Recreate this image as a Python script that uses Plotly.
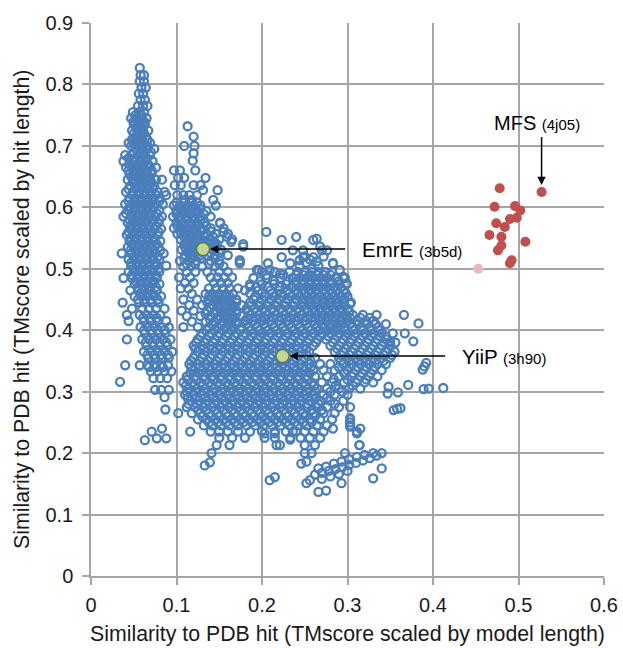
import plotly.graph_objects as go

# ---------------- data ----------------
# Blue open circles, written as rows: (y, [x values on that row])
spike_rows = [
    (0.827, [0.057]),
    (0.815, [0.058, 0.062]),
    (0.805, [0.057, 0.062]),
    (0.795, [0.059, 0.064]),
    (0.785, [0.056, 0.061]),
    (0.775, [0.058, 0.063]),
    (0.765, [0.055, 0.061, 0.066]),
    (0.755, [0.049, 0.056, 0.062]),
    (0.745, [0.047, 0.053, 0.059, 0.065]),
    (0.735, [0.050, 0.057, 0.063]),
    (0.725, [0.048, 0.054, 0.061, 0.067]),
    (0.715, [0.052, 0.058, 0.064]),
    (0.705, [0.044, 0.050, 0.056, 0.062, 0.069]),
    (0.695, [0.053, 0.059, 0.066, 0.074]),
    (0.685, [0.040, 0.047, 0.055, 0.062, 0.069]),
    (0.675, [0.038, 0.050, 0.057, 0.064, 0.072]),
    (0.665, [0.041, 0.048, 0.055, 0.061, 0.068, 0.076]),
    (0.655, [0.045, 0.052, 0.058, 0.065, 0.071]),
    (0.645, [0.043, 0.049, 0.056, 0.062, 0.069, 0.076, 0.083]),
    (0.635, [0.046, 0.053, 0.060, 0.067, 0.074]),
    (0.625, [0.041, 0.049, 0.056, 0.063, 0.070, 0.078, 0.086]),
    (0.615, [0.045, 0.052, 0.059, 0.066, 0.073, 0.080]),
    (0.605, [0.040, 0.048, 0.055, 0.062, 0.069, 0.076, 0.084]),
    (0.595, [0.044, 0.051, 0.058, 0.065, 0.072, 0.080]),
    (0.585, [0.038, 0.047, 0.054, 0.061, 0.068, 0.075, 0.083]),
    (0.575, [0.043, 0.050, 0.057, 0.064, 0.071, 0.079]),
    (0.565, [0.046, 0.053, 0.060, 0.067, 0.074, 0.082]),
    (0.555, [0.042, 0.049, 0.056, 0.063, 0.070, 0.078]),
    (0.545, [0.045, 0.052, 0.059, 0.066, 0.073, 0.081]),
    (0.535, [0.043, 0.050, 0.057, 0.064, 0.071, 0.079]),
    (0.525, [0.036, 0.047, 0.054, 0.061, 0.068, 0.075, 0.085]),
    (0.515, [0.044, 0.051, 0.058, 0.065, 0.072, 0.080]),
    (0.505, [0.047, 0.054, 0.061, 0.068, 0.075, 0.088]),
    (0.495, [0.044, 0.051, 0.058, 0.065, 0.072, 0.080]),
    (0.485, [0.038, 0.048, 0.055, 0.062, 0.069, 0.077]),
    (0.475, [0.051, 0.058, 0.065, 0.072, 0.080]),
    (0.465, [0.046, 0.055, 0.062, 0.069, 0.077]),
    (0.455, [0.051, 0.059, 0.066, 0.074, 0.082]),
    (0.445, [0.037, 0.056, 0.063, 0.071, 0.079]),
    (0.435, [0.048, 0.060, 0.068, 0.076, 0.086]),
    (0.425, [0.042, 0.057, 0.065, 0.073, 0.081]),
    (0.415, [0.044, 0.062, 0.070, 0.078, 0.088]),
    (0.405, [0.058, 0.066, 0.074, 0.082, 0.091]),
    (0.395, [0.063, 0.071, 0.079, 0.087]),
    (0.385, [0.042, 0.060, 0.068, 0.076, 0.084, 0.093]),
    (0.375, [0.065, 0.073, 0.081, 0.089]),
    (0.365, [0.062, 0.070, 0.078, 0.086, 0.095]),
    (0.355, [0.067, 0.075, 0.083, 0.091]),
    (0.343, [0.040, 0.057, 0.066, 0.074, 0.082, 0.090]),
    (0.333, [0.070, 0.078, 0.086, 0.094]),
    (0.322, [0.073, 0.081, 0.089]),
    (0.316, [0.034]),
    (0.303, [0.075, 0.082, 0.091]),
    (0.291, [0.086]),
    (0.271, [0.087]),
    (0.240, [0.083]),
    (0.235, [0.071]),
    (0.224, [0.077, 0.088]),
    (0.221, [0.063]),
]

spike_fill_rows = [
    (0.750, [0.052, 0.059]),
    (0.740, [0.050, 0.056, 0.062]),
    (0.730, [0.053, 0.060]),
    (0.720, [0.050, 0.056, 0.062]),
    (0.710, [0.048, 0.054, 0.060, 0.066]),
    (0.700, [0.047, 0.053, 0.060, 0.066]),
    (0.690, [0.050, 0.057, 0.063, 0.070]),
    (0.680, [0.044, 0.051, 0.058, 0.065]),
    (0.670, [0.045, 0.053, 0.060, 0.067]),
    (0.660, [0.044, 0.051, 0.058, 0.064, 0.071]),
    (0.650, [0.047, 0.054, 0.061, 0.068]),
    (0.640, [0.050, 0.057, 0.064, 0.071]),
    (0.630, [0.044, 0.052, 0.059, 0.066, 0.073]),
    (0.620, [0.048, 0.055, 0.062, 0.069, 0.076]),
    (0.610, [0.044, 0.051, 0.058, 0.065, 0.072, 0.080]),
    (0.600, [0.045, 0.052, 0.059, 0.066, 0.073]),
    (0.590, [0.041, 0.048, 0.055, 0.062, 0.069, 0.077]),
    (0.580, [0.045, 0.052, 0.059, 0.066, 0.073, 0.080]),
    (0.570, [0.046, 0.053, 0.060, 0.068, 0.076]),
    (0.560, [0.044, 0.051, 0.058, 0.065, 0.072, 0.079]),
    (0.550, [0.046, 0.053, 0.060, 0.067, 0.074]),
    (0.540, [0.048, 0.055, 0.062, 0.069, 0.077]),
    (0.530, [0.046, 0.053, 0.060, 0.067, 0.074, 0.081]),
    (0.520, [0.050, 0.057, 0.064, 0.071, 0.078]),
    (0.510, [0.047, 0.054, 0.061, 0.068, 0.076]),
    (0.500, [0.050, 0.057, 0.064, 0.071, 0.079]),
    (0.490, [0.048, 0.055, 0.062, 0.069, 0.076]),
    (0.480, [0.052, 0.059, 0.066, 0.073]),
    (0.470, [0.055, 0.062, 0.069, 0.076]),
    (0.460, [0.058, 0.065, 0.072]),
    (0.450, [0.055, 0.062, 0.070, 0.078]),
    (0.420, [0.061, 0.069, 0.077]),
    (0.400, [0.062, 0.070, 0.078, 0.086]),
    (0.380, [0.064, 0.072, 0.080, 0.088]),
    (0.360, [0.066, 0.074, 0.082, 0.090]),
    (0.340, [0.068, 0.076, 0.084]),
]

middle_rows = [
    (0.732, [0.113]),
    (0.715, [0.120]),
    (0.700, [0.109, 0.121]),
    (0.688, [0.120]),
    (0.676, [0.119]),
    (0.660, [0.097, 0.104, 0.122]),
    (0.648, [0.102, 0.109, 0.134]),
    (0.636, [0.098, 0.105, 0.120, 0.128]),
    (0.628, [0.131, 0.148]),
    (0.620, [0.088, 0.101, 0.108, 0.115, 0.124]),
    (0.612, [0.110, 0.118, 0.143]),
    (0.603, [0.097, 0.104, 0.112, 0.120, 0.128, 0.146]),
    (0.594, [0.100, 0.108, 0.116, 0.124, 0.135]),
    (0.585, [0.096, 0.104, 0.112, 0.120, 0.128, 0.140]),
    (0.575, [0.100, 0.108, 0.116, 0.124, 0.132, 0.151]),
    (0.566, [0.097, 0.105, 0.113, 0.121, 0.129, 0.140, 0.155]),
    (0.557, [0.101, 0.109, 0.117, 0.125, 0.135, 0.146, 0.160]),
    (0.548, [0.105, 0.113, 0.121, 0.129, 0.138, 0.150, 0.165]),
    (0.540, [0.109, 0.117, 0.125, 0.140, 0.147, 0.178]),
    (0.531, [0.106, 0.114, 0.122, 0.131, 0.142, 0.152]),
    (0.522, [0.110, 0.118, 0.127, 0.136, 0.145, 0.160]),
    (0.513, [0.104, 0.114, 0.123, 0.140, 0.150, 0.174]),
    (0.504, [0.108, 0.117, 0.130, 0.145, 0.155]),
    (0.495, [0.112, 0.122, 0.136, 0.150, 0.160]),
    (0.486, [0.103, 0.116, 0.140, 0.148, 0.156, 0.165]),
    (0.477, [0.110, 0.120, 0.144, 0.152, 0.160]),
    (0.468, [0.105, 0.114, 0.138, 0.146, 0.154, 0.162, 0.172]),
    (0.459, [0.118, 0.134, 0.142, 0.150, 0.158, 0.166]),
    (0.450, [0.108, 0.124, 0.138, 0.146, 0.154, 0.162, 0.170]),
    (0.441, [0.115, 0.130, 0.142, 0.150, 0.158, 0.166, 0.176]),
    (0.432, [0.106, 0.120, 0.136, 0.146, 0.154, 0.162, 0.170]),
    (0.423, [0.112, 0.128, 0.140, 0.150, 0.158, 0.166, 0.176]),
    (0.414, [0.118, 0.134, 0.144, 0.154, 0.162, 0.170]),
    (0.405, [0.108, 0.125, 0.138, 0.148, 0.158, 0.166, 0.176]),
]

middle_fill_rows = [
    (0.608, [0.100, 0.108, 0.116, 0.124]),
    (0.598, [0.104, 0.112, 0.120, 0.128]),
    (0.589, [0.100, 0.108, 0.116, 0.124, 0.132]),
    (0.580, [0.104, 0.112, 0.120, 0.128]),
    (0.570, [0.101, 0.109, 0.117, 0.125, 0.135]),
    (0.561, [0.105, 0.113, 0.121, 0.129, 0.140]),
    (0.552, [0.109, 0.117, 0.125, 0.133, 0.143]),
    (0.544, [0.112, 0.120, 0.128, 0.136, 0.144]),
    (0.535, [0.110, 0.118, 0.126, 0.137, 0.147]),
    (0.526, [0.114, 0.122, 0.131, 0.140, 0.150]),
    (0.517, [0.109, 0.118, 0.128, 0.145]),
    (0.508, [0.112, 0.122, 0.138, 0.150]),
    (0.455, [0.138, 0.146, 0.154, 0.162]),
    (0.445, [0.136, 0.146, 0.154, 0.162, 0.170]),
    (0.436, [0.140, 0.150, 0.158, 0.166]),
    (0.427, [0.134, 0.145, 0.154, 0.162, 0.170]),
    (0.418, [0.139, 0.149, 0.158, 0.166]),
    (0.409, [0.143, 0.153, 0.162, 0.170]),
]

upper_ring_x = [0.205, 0.223, 0.178, 0.164, 0.151, 0.155, 0.159, 0.174, 0.240, 0.260,
                0.264, 0.270, 0.236, 0.248, 0.223, 0.207, 0.196, 0.283, 0.291, 0.297,
                0.174, 0.186, 0.194, 0.209, 0.213, 0.221, 0.233, 0.244, 0.248, 0.260,
                0.268, 0.276, 0.283, 0.295, 0.299, 0.303, 0.299, 0.244, 0.252, 0.258,
                0.266, 0.250, 0.256, 0.264, 0.272]
upper_ring_y = [0.560, 0.547, 0.536, 0.544, 0.574, 0.560, 0.552, 0.514, 0.552, 0.547,
                0.549, 0.530, 0.530, 0.519, 0.519, 0.509, 0.498, 0.509, 0.498, 0.485,
                0.509, 0.471, 0.498, 0.498, 0.481, 0.492, 0.509, 0.514, 0.530, 0.519,
                0.536, 0.530, 0.509, 0.487, 0.476, 0.443, 0.422, 0.505, 0.510, 0.500,
                0.505, 0.520, 0.515, 0.512, 0.520]

main_rows = [
    (0.495, [0.200, 0.215, 0.232, 0.242, 0.250, 0.258, 0.266, 0.274, 0.282]),
    (0.485, [0.190, 0.206, 0.222, 0.236, 0.244, 0.252, 0.260, 0.268, 0.276, 0.286, 0.296]),
    (0.475, [0.186, 0.200, 0.214, 0.228, 0.240, 0.248, 0.256, 0.264, 0.272, 0.280, 0.290, 0.299]),
    (0.465, [0.180, 0.196, 0.210, 0.220, 0.230, 0.240, 0.248, 0.256, 0.264, 0.272, 0.280, 0.288, 0.296]),
    (0.455, [0.192, 0.204, 0.214, 0.224, 0.234, 0.244, 0.252, 0.260, 0.268, 0.276, 0.284, 0.292, 0.300]),
    (0.445, [0.186, 0.198, 0.208, 0.218, 0.228, 0.238, 0.248, 0.256, 0.264, 0.272, 0.280, 0.288, 0.296, 0.304]),
    (0.435, [0.182, 0.192, 0.202, 0.212, 0.222, 0.232, 0.242, 0.252, 0.260, 0.268, 0.276, 0.284, 0.292, 0.300]),
    (0.425, [0.186, 0.196, 0.206, 0.216, 0.226, 0.236, 0.246, 0.256, 0.264, 0.272, 0.280, 0.288, 0.296, 0.306, 0.318, 0.334]),
    (0.415, [0.180, 0.190, 0.200, 0.210, 0.220, 0.230, 0.240, 0.250, 0.260, 0.268, 0.276, 0.284, 0.292, 0.300, 0.312, 0.322, 0.330]),
    (0.405, [0.184, 0.194, 0.204, 0.214, 0.224, 0.234, 0.244, 0.254, 0.264, 0.272, 0.280, 0.288, 0.296, 0.306, 0.316, 0.326, 0.336]),
    (0.395, [0.130, 0.140, 0.150, 0.160, 0.170, 0.180, 0.190, 0.200, 0.210, 0.220, 0.230, 0.240, 0.250, 0.260, 0.270, 0.280, 0.290, 0.300, 0.310, 0.320, 0.330, 0.340]),
    (0.385, [0.125, 0.135, 0.145, 0.155, 0.165, 0.175, 0.185, 0.195, 0.205, 0.215, 0.225, 0.235, 0.245, 0.255, 0.265, 0.275, 0.285, 0.295, 0.305, 0.315, 0.325, 0.335, 0.345]),
    (0.375, [0.120, 0.130, 0.140, 0.150, 0.160, 0.170, 0.180, 0.190, 0.200, 0.210, 0.220, 0.230, 0.240, 0.250, 0.260, 0.280, 0.290, 0.300, 0.310, 0.320, 0.330, 0.340, 0.350]),
    (0.365, [0.125, 0.135, 0.145, 0.155, 0.165, 0.175, 0.185, 0.195, 0.205, 0.215, 0.225, 0.235, 0.245, 0.255, 0.285, 0.295, 0.305, 0.315, 0.325, 0.335, 0.345, 0.355]),
    (0.355, [0.120, 0.130, 0.140, 0.150, 0.160, 0.170, 0.180, 0.190, 0.200, 0.210, 0.220, 0.230, 0.240, 0.250, 0.262, 0.290, 0.300, 0.310, 0.320, 0.330, 0.340, 0.350]),
    (0.345, [0.115, 0.125, 0.135, 0.145, 0.155, 0.165, 0.175, 0.185, 0.195, 0.205, 0.215, 0.225, 0.235, 0.245, 0.255, 0.268, 0.280, 0.295, 0.305, 0.315, 0.325, 0.335, 0.345]),
    (0.335, [0.120, 0.130, 0.140, 0.150, 0.160, 0.170, 0.180, 0.190, 0.200, 0.210, 0.220, 0.230, 0.240, 0.250, 0.260, 0.272, 0.285, 0.300, 0.310, 0.320, 0.330, 0.340]),
    (0.325, [0.112, 0.122, 0.132, 0.142, 0.152, 0.162, 0.172, 0.182, 0.192, 0.202, 0.212, 0.222, 0.232, 0.242, 0.252, 0.262, 0.276, 0.290, 0.305, 0.315, 0.325, 0.335]),
    (0.315, [0.108, 0.118, 0.128, 0.138, 0.148, 0.158, 0.168, 0.178, 0.188, 0.198, 0.208, 0.218, 0.228, 0.238, 0.248, 0.258, 0.270, 0.282, 0.296, 0.310, 0.320, 0.330]),
    (0.305, [0.114, 0.124, 0.134, 0.144, 0.154, 0.164, 0.174, 0.184, 0.194, 0.204, 0.214, 0.224, 0.234, 0.244, 0.254, 0.264, 0.276, 0.290, 0.302, 0.315]),
    (0.295, [0.110, 0.120, 0.130, 0.140, 0.150, 0.160, 0.170, 0.180, 0.190, 0.200, 0.210, 0.220, 0.230, 0.240, 0.250, 0.260, 0.272, 0.285, 0.300]),
    (0.285, [0.116, 0.126, 0.136, 0.146, 0.156, 0.166, 0.176, 0.186, 0.196, 0.206, 0.216, 0.226, 0.236, 0.246, 0.256, 0.268, 0.280, 0.295]),
    (0.275, [0.112, 0.122, 0.132, 0.142, 0.152, 0.162, 0.172, 0.182, 0.192, 0.202, 0.212, 0.222, 0.232, 0.242, 0.252, 0.264, 0.276, 0.290, 0.303]),
    (0.265, [0.102, 0.118, 0.128, 0.138, 0.148, 0.158, 0.168, 0.178, 0.188, 0.198, 0.208, 0.218, 0.228, 0.238, 0.248, 0.260, 0.272, 0.285]),
    (0.255, [0.125, 0.135, 0.145, 0.155, 0.165, 0.175, 0.185, 0.195, 0.205, 0.215, 0.225, 0.235, 0.245, 0.256, 0.268, 0.282, 0.303]),
    (0.245, [0.132, 0.142, 0.152, 0.162, 0.172, 0.182, 0.192, 0.202, 0.212, 0.222, 0.232, 0.242, 0.252, 0.264, 0.276, 0.303]),
    (0.235, [0.116, 0.140, 0.150, 0.160, 0.172, 0.186, 0.200, 0.215, 0.228, 0.240, 0.250, 0.260, 0.272, 0.311]),
    (0.225, [0.150, 0.165, 0.180, 0.203, 0.215, 0.233, 0.245, 0.256, 0.268]),
    (0.213, [0.147, 0.162, 0.217, 0.221, 0.250, 0.262, 0.314]),
    (0.200, [0.141, 0.250, 0.258, 0.297]),
]

main_fill_rows = [
    (0.490, [0.205, 0.225, 0.240, 0.248, 0.256, 0.264, 0.272, 0.280]),
    (0.480, [0.198, 0.214, 0.230, 0.240, 0.248, 0.256, 0.264, 0.272, 0.280, 0.290]),
    (0.470, [0.193, 0.207, 0.221, 0.235, 0.244, 0.252, 0.260, 0.268, 0.276, 0.284, 0.292]),
    (0.460, [0.186, 0.200, 0.212, 0.222, 0.232, 0.242, 0.250, 0.258, 0.266, 0.274, 0.282, 0.290, 0.298]),
    (0.450, [0.190, 0.200, 0.210, 0.220, 0.230, 0.240, 0.248, 0.256, 0.264, 0.272, 0.280, 0.288, 0.296]),
    (0.440, [0.187, 0.197, 0.207, 0.217, 0.227, 0.237, 0.247, 0.256, 0.264, 0.272, 0.280, 0.288, 0.296]),
    (0.430, [0.184, 0.194, 0.204, 0.214, 0.224, 0.234, 0.244, 0.254, 0.262, 0.270, 0.278, 0.286, 0.294, 0.302]),
    (0.420, [0.183, 0.193, 0.203, 0.213, 0.223, 0.233, 0.243, 0.253, 0.262, 0.270, 0.278, 0.286, 0.294, 0.303, 0.315, 0.326]),
    (0.410, [0.182, 0.192, 0.202, 0.212, 0.222, 0.232, 0.242, 0.252, 0.262, 0.270, 0.278, 0.286, 0.294, 0.303, 0.313, 0.323, 0.333]),
    (0.400, [0.135, 0.145, 0.155, 0.165, 0.175, 0.187, 0.197, 0.207, 0.217, 0.227, 0.237, 0.247, 0.257, 0.267, 0.277, 0.287, 0.297, 0.307, 0.317, 0.327, 0.337]),
    (0.390, [0.128, 0.138, 0.148, 0.158, 0.168, 0.178, 0.188, 0.198, 0.208, 0.218, 0.228, 0.238, 0.248, 0.258, 0.268, 0.278, 0.288, 0.298, 0.308, 0.318, 0.328, 0.338, 0.345]),
    (0.380, [0.123, 0.133, 0.143, 0.153, 0.163, 0.173, 0.183, 0.193, 0.203, 0.213, 0.223, 0.233, 0.243, 0.253, 0.263, 0.283, 0.293, 0.303, 0.313, 0.323, 0.333, 0.343, 0.350]),
    (0.370, [0.122, 0.132, 0.142, 0.152, 0.162, 0.172, 0.182, 0.192, 0.202, 0.212, 0.222, 0.232, 0.242, 0.252, 0.288, 0.298, 0.308, 0.318, 0.328, 0.338, 0.348]),
    (0.360, [0.122, 0.132, 0.142, 0.152, 0.162, 0.172, 0.182, 0.192, 0.202, 0.212, 0.222, 0.232, 0.242, 0.252, 0.292, 0.302, 0.312, 0.322, 0.332, 0.342, 0.352]),
    (0.350, [0.117, 0.127, 0.137, 0.147, 0.157, 0.167, 0.177, 0.187, 0.197, 0.207, 0.217, 0.227, 0.237, 0.247, 0.257, 0.292, 0.302, 0.312, 0.322, 0.332, 0.342]),
    (0.340, [0.117, 0.127, 0.137, 0.147, 0.157, 0.167, 0.177, 0.187, 0.197, 0.207, 0.217, 0.227, 0.237, 0.247, 0.257, 0.290, 0.302, 0.312, 0.322, 0.332]),
    (0.330, [0.116, 0.126, 0.136, 0.146, 0.156, 0.166, 0.176, 0.186, 0.196, 0.206, 0.216, 0.226, 0.236, 0.246, 0.256, 0.296, 0.307, 0.317, 0.327]),
    (0.320, [0.113, 0.123, 0.133, 0.143, 0.153, 0.163, 0.173, 0.183, 0.193, 0.203, 0.213, 0.223, 0.233, 0.243, 0.253, 0.284, 0.300, 0.312, 0.322]),
    (0.310, [0.111, 0.121, 0.131, 0.141, 0.151, 0.161, 0.171, 0.181, 0.191, 0.201, 0.211, 0.221, 0.231, 0.241, 0.251, 0.261, 0.286, 0.306]),
    (0.300, [0.112, 0.122, 0.132, 0.142, 0.152, 0.162, 0.172, 0.182, 0.192, 0.202, 0.212, 0.222, 0.232, 0.242, 0.252, 0.262, 0.280, 0.294]),
    (0.290, [0.113, 0.123, 0.133, 0.143, 0.153, 0.163, 0.173, 0.183, 0.193, 0.203, 0.213, 0.223, 0.233, 0.243, 0.253, 0.263, 0.276]),
    (0.280, [0.114, 0.124, 0.134, 0.144, 0.154, 0.164, 0.174, 0.184, 0.194, 0.204, 0.214, 0.224, 0.234, 0.244, 0.254, 0.266, 0.285]),
    (0.270, [0.125, 0.135, 0.145, 0.155, 0.165, 0.175, 0.185, 0.195, 0.205, 0.215, 0.225, 0.235, 0.245, 0.258, 0.270]),
    (0.260, [0.130, 0.140, 0.150, 0.160, 0.170, 0.180, 0.190, 0.200, 0.210, 0.220, 0.230, 0.240, 0.250, 0.262]),
    (0.250, [0.138, 0.148, 0.158, 0.168, 0.178, 0.188, 0.198, 0.208, 0.218, 0.228, 0.238, 0.248, 0.258]),
]

# lower diagonal streak and scattered outliers
streak_x = [0.262, 0.270, 0.278, 0.286, 0.294, 0.302, 0.310, 0.318, 0.326, 0.334, 0.340,
            0.266, 0.275, 0.284, 0.293, 0.302, 0.311, 0.320, 0.330,
            0.270, 0.280, 0.290, 0.300]
streak_y = [0.165, 0.168, 0.171, 0.174, 0.177, 0.181, 0.184, 0.188, 0.192, 0.196, 0.200,
            0.175, 0.178, 0.183, 0.186, 0.190, 0.194, 0.197, 0.200,
            0.158, 0.162, 0.166, 0.171]

outlier_x = [0.366, 0.383, 0.377, 0.367, 0.392, 0.390, 0.388, 0.371, 0.348, 0.359,
             0.347, 0.389, 0.395, 0.412, 0.354, 0.358, 0.362, 0.303, 0.303, 0.315,
             0.283, 0.330, 0.340, 0.209, 0.215, 0.266, 0.275, 0.293, 0.252, 0.256,
             0.246, 0.252, 0.203, 0.215, 0.233, 0.236, 0.311, 0.314, 0.303, 0.133,
             0.139, 0.353, 0.345, 0.356]
outlier_y = [0.425, 0.411, 0.382, 0.395, 0.347, 0.341, 0.336, 0.311, 0.308, 0.299,
             0.297, 0.304, 0.305, 0.306, 0.270, 0.272, 0.273, 0.257, 0.250, 0.240,
             0.240, 0.159, 0.175, 0.156, 0.161, 0.137, 0.139, 0.151, 0.151, 0.156,
             0.183, 0.186, 0.232, 0.232, 0.222, 0.235, 0.232, 0.213, 0.243, 0.180,
             0.185, 0.395, 0.410, 0.380]

# Red filled circles (MFS group)
red_x = [0.478, 0.527, 0.472, 0.496, 0.502, 0.498, 0.490, 0.474, 0.484, 0.466,
         0.480, 0.480, 0.508, 0.476, 0.492, 0.490]
red_y = [0.631, 0.625, 0.601, 0.602, 0.595, 0.583, 0.581, 0.574, 0.568, 0.555,
         0.552, 0.538, 0.544, 0.530, 0.514, 0.509]
red_faded_x = [0.453]
red_faded_y = [0.500]

# Highlighted structures
hl_names = ["EmrE", "YiiP"]
hl_codes = ["(3b5d)", "(3h90)"]
hl_x = [0.131, 0.224]
hl_y = [0.532, 0.358]
mfs_name, mfs_code = "MFS", "(4j05)"
mfs_x, mfs_y = 0.527, 0.625

x_ticks = [0, 0.1, 0.2, 0.3, 0.4, 0.5, 0.6]
y_ticks = [0, 0.1, 0.2, 0.3, 0.4, 0.5, 0.6, 0.7, 0.8, 0.9]
x_title = "Similarity to PDB hit (TMscore scaled by model length)"
y_title = "Similarity to PDB hit (TMscore scaled by hit length)"

# ---------------- assemble ----------------
blue_x, blue_y = [], []
for rows in (spike_rows, spike_fill_rows, middle_rows, middle_fill_rows,
             main_rows, main_fill_rows):
    for yv, xs in rows:
        for xv in xs:
            blue_x.append(xv)
            blue_y.append(yv)
blue_x += upper_ring_x + streak_x + outlier_x
blue_y += upper_ring_y + streak_y + outlier_y

BLUE = "#4a7ebb"
FONT = "Liberation Sans, Arial, sans-serif"

fig = go.Figure()
fig.add_trace(go.Scatter(x=blue_x, y=blue_y, mode="markers",
                         marker=dict(symbol="circle-open", size=8, color=BLUE,
                                     line=dict(width=2.3, color=BLUE)),
                         hoverinfo="skip"))
fig.add_trace(go.Scatter(x=red_faded_x, y=red_faded_y, mode="markers",
                         marker=dict(size=10, color="#e8b9b8", line=dict(width=0))))
fig.add_trace(go.Scatter(x=red_x, y=red_y, mode="markers",
                         marker=dict(size=10, color="#c0504d", line=dict(width=0))))
fig.add_trace(go.Scatter(x=hl_x, y=hl_y, mode="markers",
                         marker=dict(size=13, color="#c3d69b",
                                     line=dict(width=1.3, color="#5e7a2c"))))

grid_c = "#a6a6a6"
axis_common = dict(showgrid=True, gridcolor=grid_c, gridwidth=1.5,
                   showline=True, linecolor=grid_c, linewidth=1.5,
                   ticks="outside", ticklen=7, tickcolor=grid_c, tickwidth=1.5,
                   zeroline=False, tickfont=dict(size=20), automargin=False)
fig.update_layout(
    width=623, height=648,
    margin=dict(l=91, r=19, t=23, b=72),
    paper_bgcolor="white", plot_bgcolor="white",
    showlegend=False,
    font=dict(family=FONT, size=20, color="#1a1a1a"),
    xaxis=dict(range=[0, 0.6], tickvals=x_ticks, ticktext=[f"{v:g}" for v in x_ticks],
               ticklabelstandoff=3, **axis_common),
    yaxis=dict(range=[0, 0.9], tickvals=y_ticks, ticktext=[f"{v:g}" for v in y_ticks],
               ticklabelstandoff=5, **axis_common),
)

# axis titles
fig.add_annotation(x=0.5, y=-0.105, xref="paper", yref="paper", showarrow=False,
                   xanchor="center", yanchor="middle", text=x_title,
                   font=dict(size=21.3, color="#1a1a1a", family=FONT))
fig.add_annotation(x=-0.1345, y=0.481, xref="paper", yref="paper", showarrow=False,
                   xanchor="center", yanchor="middle", textangle=-90, text=y_title,
                   font=dict(size=21.3, color="#1a1a1a", family=FONT))

# arrows (tail -> head) for EmrE and YiiP, then their labels
tails_x = [0.299, 0.416]
labels_x = [0.315, 0.431]
for name, code, hx, hy, tx, lx in zip(hl_names, hl_codes, hl_x, hl_y, tails_x, labels_x):
    fig.add_annotation(x=hx, y=hy, ax=tx, ay=hy, xref="x", yref="y", axref="x", ayref="y",
                       showarrow=True, arrowhead=2, arrowsize=1.1, arrowwidth=1.5,
                       arrowcolor="black", standoff=7, text="")
    fig.add_annotation(x=lx, y=hy, xref="x", yref="y", xanchor="left",
                       yanchor="middle", showarrow=False,
                       text=f"{name} <span style='font-size:15px'>{code}</span>",
                       font=dict(size=20.5, color="black", family=FONT))

# MFS arrow (vertical) and label
fig.add_annotation(x=mfs_x, y=mfs_y, ax=mfs_x, ay=0.717, xref="x", yref="y",
                   axref="x", ayref="y", showarrow=True, arrowhead=2, arrowsize=1.1,
                   arrowwidth=1.5, arrowcolor="black", standoff=7, text="")
fig.add_annotation(x=0.469, y=0.737, xref="x", yref="y", xanchor="left",
                   yanchor="middle", showarrow=False,
                   text=f"{mfs_name} <span style='font-size:15px'>{mfs_code}</span>",
                   font=dict(size=20, color="black", family=FONT))

# remove the browser's default 8px page margin so the figure fills the window
fig.write_html("out.html", config={"displayModeBar": False},
               post_script="document.body.style.margin='0';")
